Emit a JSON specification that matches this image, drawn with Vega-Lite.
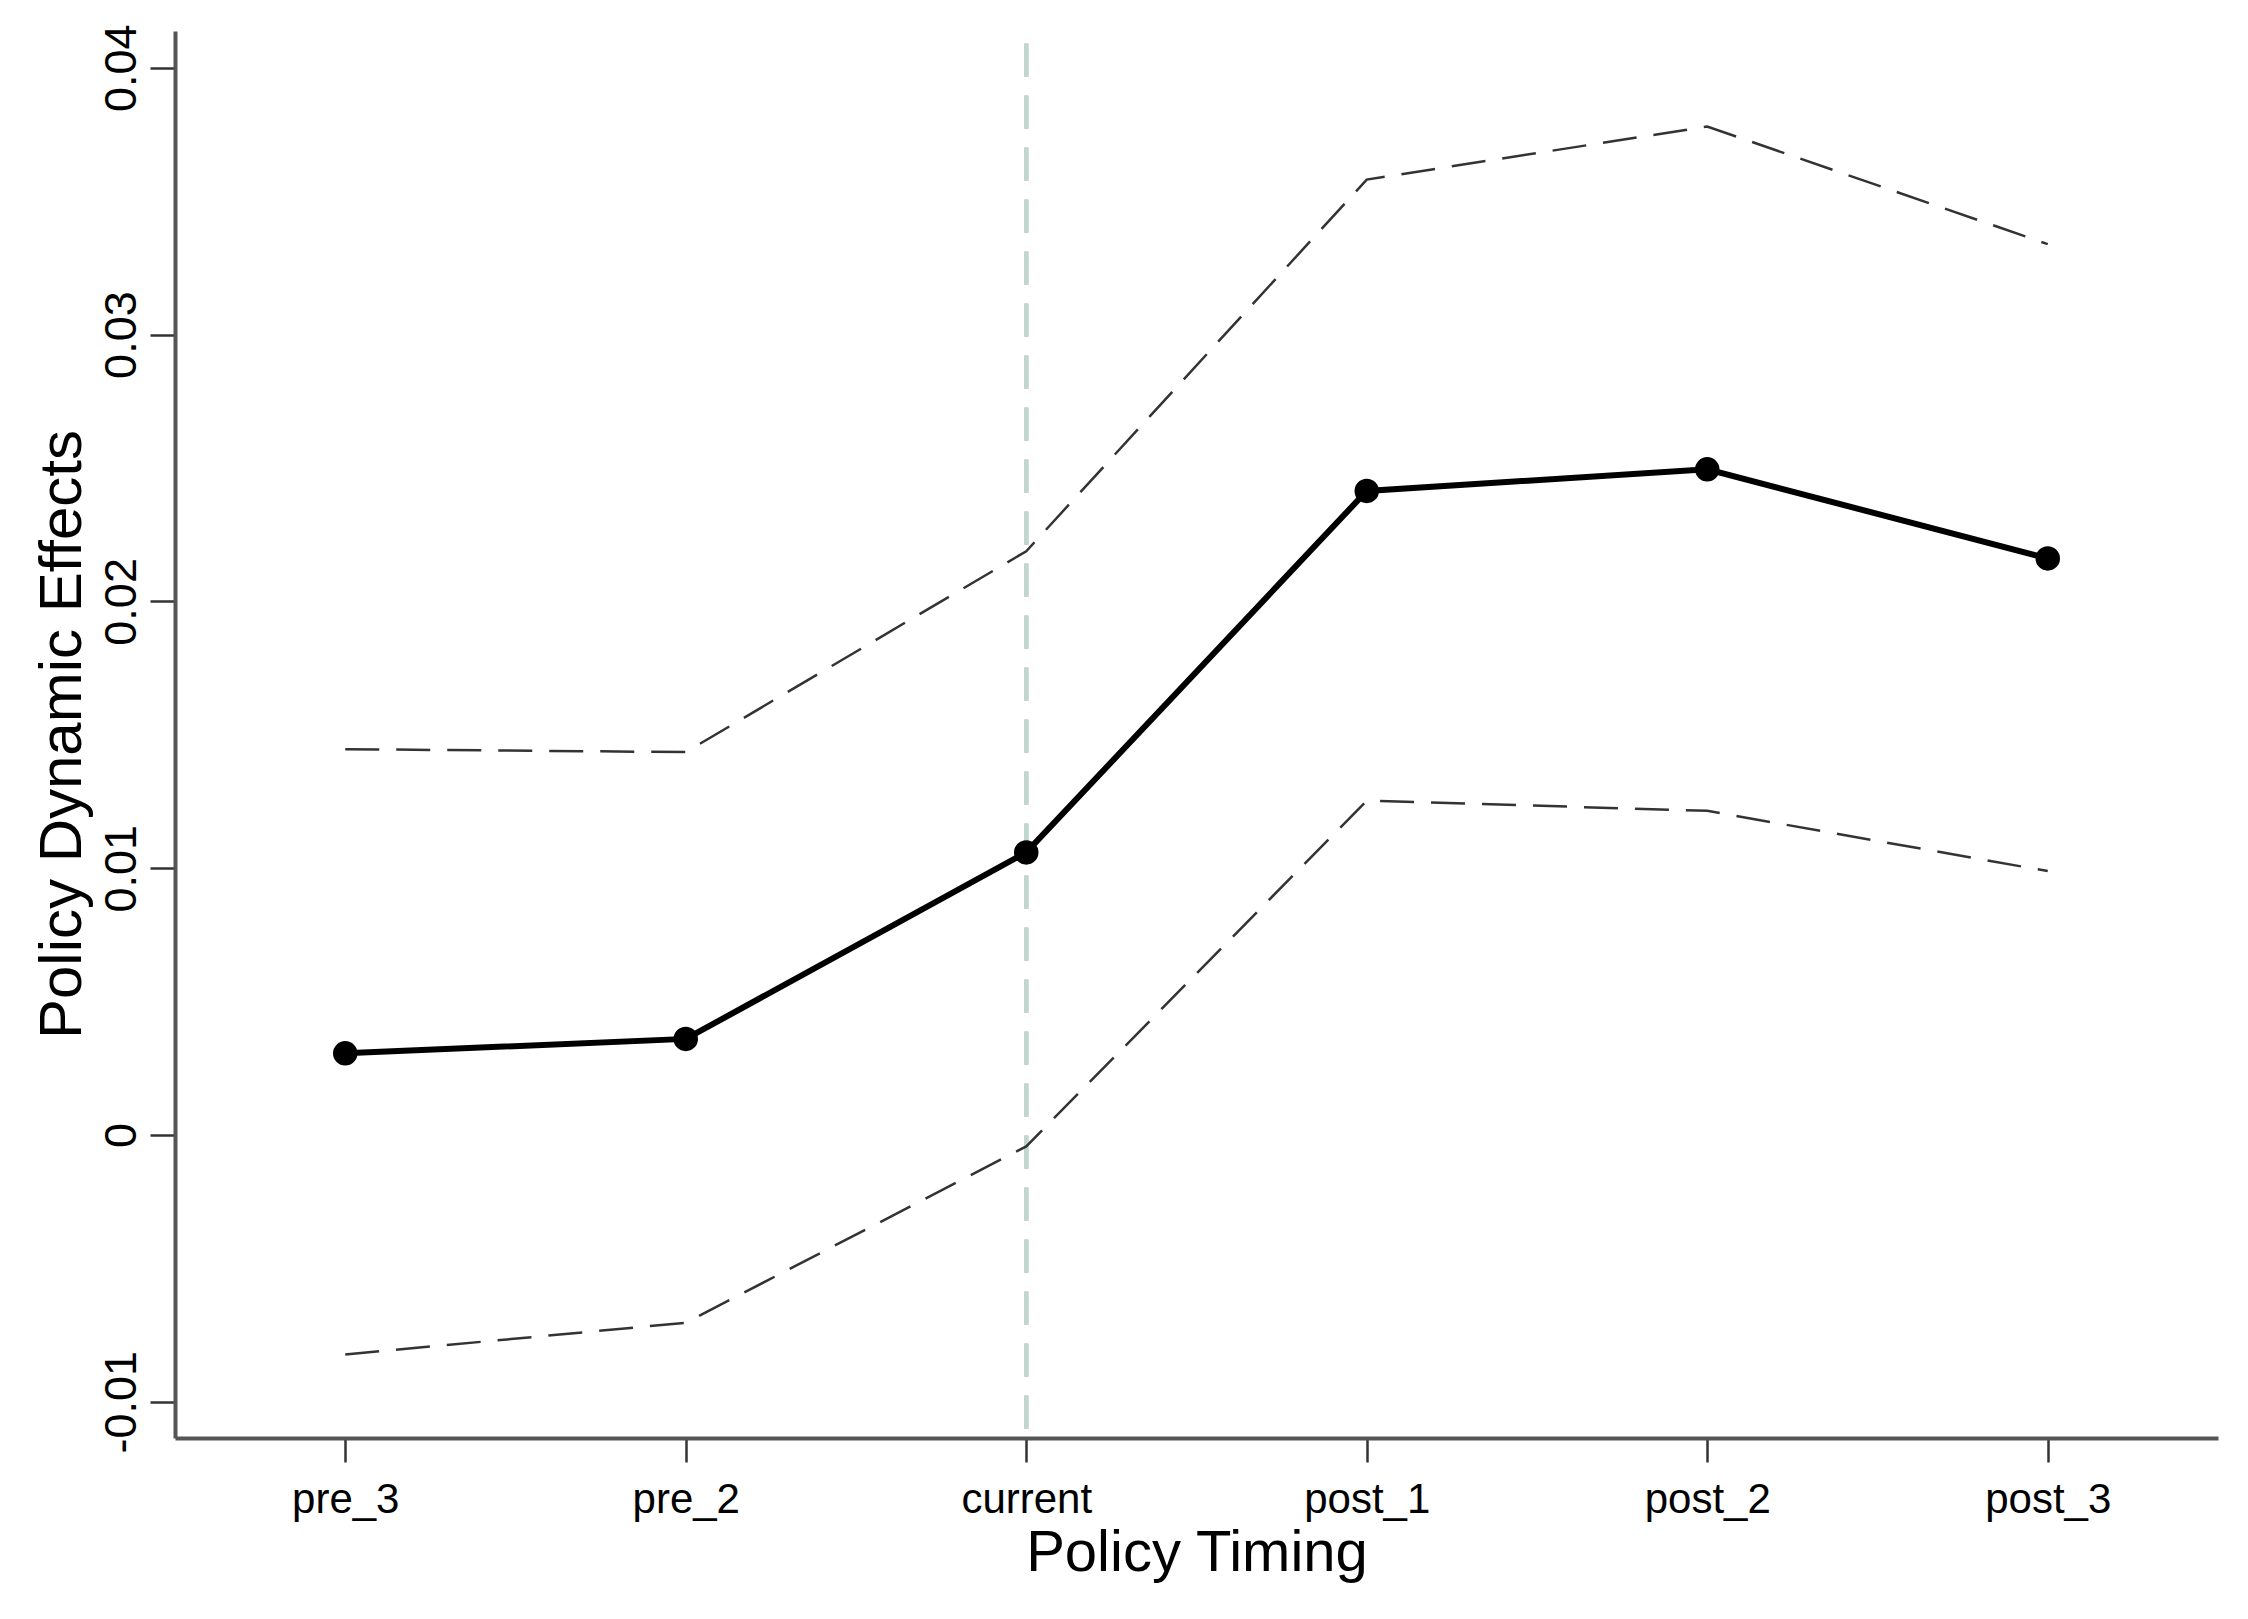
{
  "$schema": "https://vega.github.io/schema/vega-lite/v6.json",
  "autosize": {"type": "none"},
  "width": 2043,
  "height": 1407,
  "padding": {"left": 175, "top": 31, "right": 30, "bottom": 181},
  "background": "white",
  "config": {
    "view": {"stroke": null},
    "axis": {"grid": false}
  },
  "data": {
    "values": [
      {"t": "pre_3", "b": 0.00306, "lo": -0.00823, "hi": 0.01446},
      {"t": "pre_2", "b": 0.00360, "lo": -0.00704, "hi": 0.01435},
      {"t": "current", "b": 0.01059, "lo": -0.00043, "hi": 0.02188},
      {"t": "post_1", "b": 0.02414, "lo": 0.01253, "hi": 0.03581},
      {"t": "post_2", "b": 0.02495, "lo": 0.01215, "hi": 0.03780},
      {"t": "post_3", "b": 0.02161, "lo": 0.00989, "hi": 0.03339}
    ]
  },
  "encoding": {
    "x": {
      "field": "t",
      "type": "ordinal",
      "sort": ["pre_3", "pre_2", "current", "post_1", "post_2", "post_3"],
      "scale": {"type": "point", "padding": 0.5},
      "axis": {
        "title": "Policy Timing",
        "titleFont": "Liberation Sans",
        "titleFontSize": 58,
        "titleFontWeight": "normal",
        "titleColor": "#000000",
        "titleBaseline": "alphabetic",
        "titleY": 132,
        "labelFont": "Liberation Sans",
        "labelFontSize": 42,
        "labelColor": "#000000",
        "labelAngle": 0,
        "labelPadding": 17,
        "tickSize": 24,
        "tickWidth": 2.5,
        "tickColor": "#333333",
        "domainColor": "#555555",
        "domainWidth": 4
      }
    }
  },
  "layer": [
    {
      "mark": {"type": "rule", "color": "#46768c", "strokeWidth": 3},
      "encoding": {"y": {"datum": 0}}
    },
    {
      "mark": {"type": "rule", "color": "#c2d6d0", "strokeWidth": 4, "strokeDash": [33, 19]},
      "encoding": {
        "x": {"datum": "current", "type": "ordinal"},
        "y": {"datum": 0.0409},
        "y2": {"datum": -0.01136}
      }
    },
    {
      "mark": {"type": "line", "color": "#333333", "strokeWidth": 2.5, "strokeDash": [34, 17]},
      "encoding": {"y": {"field": "hi", "type": "quantitative"}}
    },
    {
      "mark": {"type": "line", "color": "#333333", "strokeWidth": 2.5, "strokeDash": [34, 17]},
      "encoding": {"y": {"field": "lo", "type": "quantitative"}}
    },
    {
      "mark": {"type": "line", "color": "#000000", "strokeWidth": 6},
      "encoding": {"y": {"field": "b", "type": "quantitative"}}
    },
    {
      "mark": {"type": "point", "filled": true, "color": "#000000", "opacity": 1, "size": 600},
      "encoding": {
        "y": {
          "field": "b",
          "type": "quantitative",
          "scale": {"domain": [-0.01136, 0.04138], "nice": false, "zero": false},
          "axis": {
            "title": "Policy Dynamic Effects",
            "titleFont": "Liberation Sans",
            "titleFontSize": 60,
            "titleFontWeight": "normal",
            "titleColor": "#000000",
            "titleAngle": -90,
            "titleBaseline": "alphabetic",
            "titleAlign": "center",
            "titleX": -95,
            "titleY": 703,
            "values": [-0.01, 0, 0.01, 0.02, 0.03, 0.04],
            "labelExpr": "datum.value == 0 ? '0' : (datum.value < 0 ? '-' + format(-datum.value, '.2f') : format(datum.value, '.2f'))",
            "labelFont": "Liberation Sans",
            "labelFontSize": 45,
            "labelColor": "#000000",
            "labelAngle": -90,
            "labelAlign": "center",
            "labelBaseline": "alphabetic",
            "labelPadding": 15,
            "labelFlush": false,
            "labelOverlap": false,
            "tickSize": 25,
            "tickWidth": 2.5,
            "tickColor": "#333333",
            "domainColor": "#555555",
            "domainWidth": 4
          }
        }
      }
    }
  ]
}
